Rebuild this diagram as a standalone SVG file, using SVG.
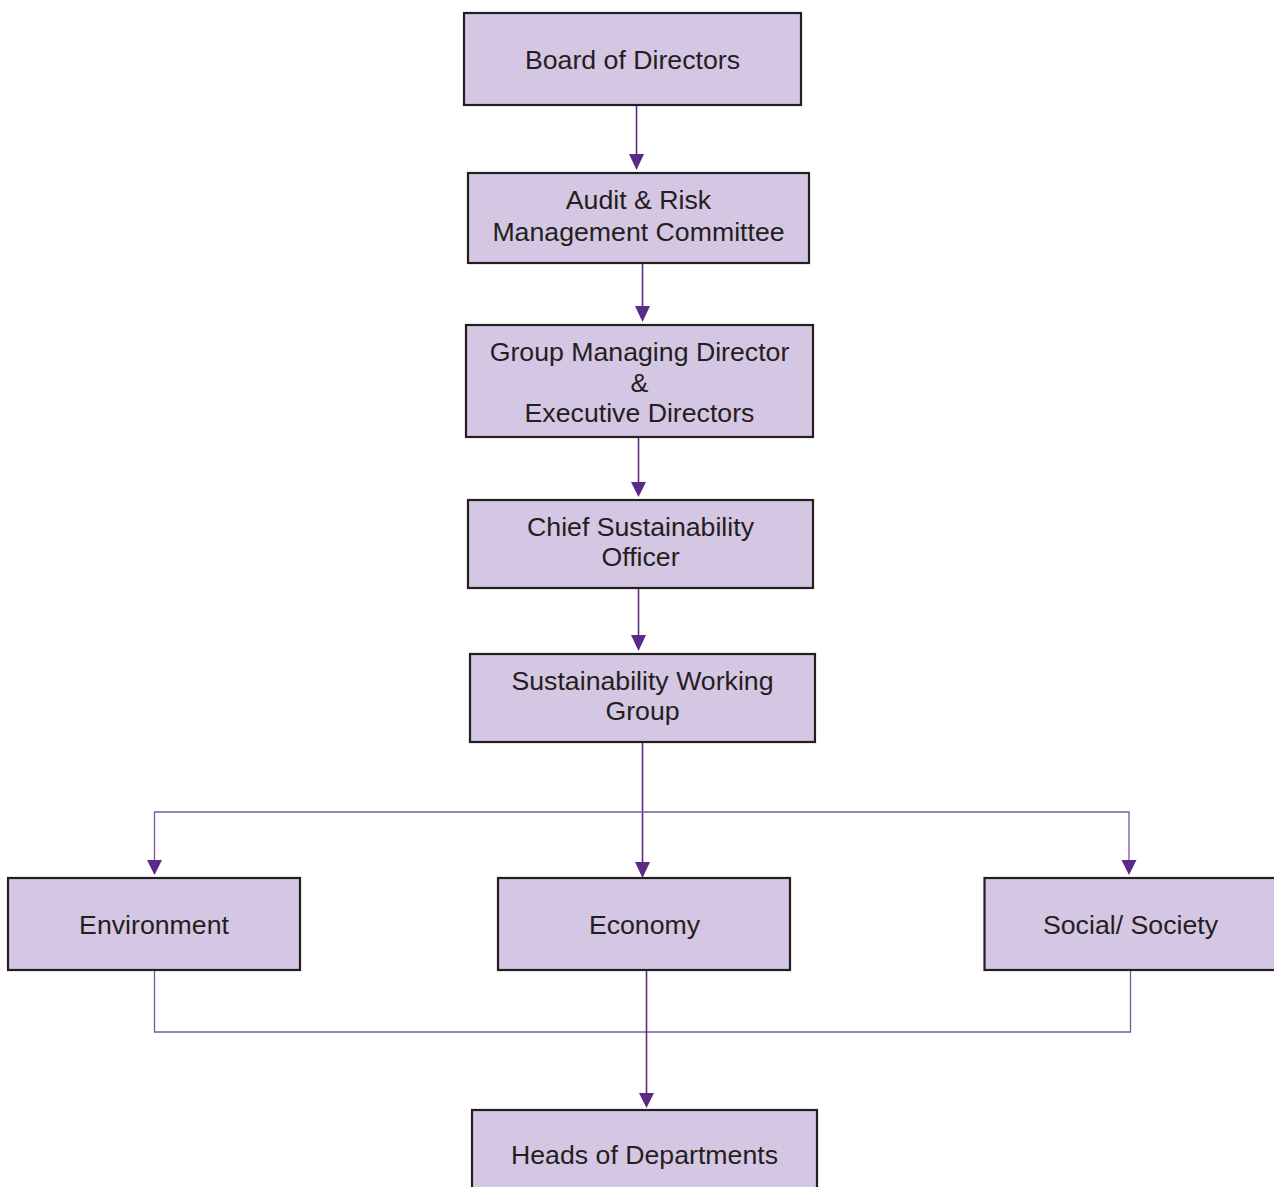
<svg xmlns="http://www.w3.org/2000/svg" width="1274" height="1187" viewBox="0 0 1274 1187">
<style>
.box{fill:#d5c6e3;stroke:#231f20;stroke-width:2.2}
.t{font-family:"Liberation Sans",Arial,sans-serif;font-size:26.7px;fill:#231f20;text-anchor:middle}
.c{stroke:#5b2a86;stroke-width:1.6;fill:none}
.h{stroke:#7b55a3;stroke-width:1.3;fill:none}
.a{fill:#5b2a86}
</style>
<rect width="1274" height="1187" fill="#ffffff"/>
<g id="connectors">
<path class="c" d="M636.5,106 V156"/>
<path class="a" d="M629,154 L644,154 L636.5,170 Z"/>
<path class="c" d="M642.5,264 V308"/>
<path class="a" d="M635,306 L650,306 L642.5,322 Z"/>
<path class="c" d="M638.5,437 V484"/>
<path class="a" d="M631,482 L646,482 L638.5,497 Z"/>
<path class="c" d="M638.5,588 V637"/>
<path class="a" d="M631,635 L646,635 L638.5,651 Z"/>
<path class="c" d="M642.5,743 V864"/>
<path class="a" d="M635,862 L650,862 L642.5,878 Z"/>
<path class="h" d="M154.5,861 V812 H1129 V861"/>
<path class="a" d="M147,860 L162,860 L154.5,875 Z"/>
<path class="a" d="M1121.5,860 L1136.5,860 L1129,875 Z"/>
<path class="h" d="M154.5,971 V1032 H1130.5 V971"/>
<path class="c" d="M646.5,970 V1094"/>
<path class="a" d="M639,1093 L654,1093 L646.5,1108 Z"/>
</g>
<g id="board">
<rect class="box" x="464" y="13" width="337" height="92"/>
<text class="t" x="632.5" y="69">Board of Directors</text>
</g>
<g id="audit">
<rect class="box" x="468" y="173" width="341" height="90"/>
<text class="t" x="638.5" y="209">Audit &amp; Risk</text>
<text class="t" x="638.5" y="241">Management Committee</text>
</g>
<g id="gmd">
<rect class="box" x="466" y="325" width="347" height="112"/>
<text class="t" x="639.5" y="361">Group Managing Director</text>
<text class="t" x="639.5" y="392">&amp;</text>
<text class="t" x="639.5" y="422">Executive Directors</text>
</g>
<g id="cso">
<rect class="box" x="468" y="500" width="345" height="88"/>
<text class="t" x="640.5" y="536">Chief Sustainability</text>
<text class="t" x="640.5" y="566">Officer</text>
</g>
<g id="swg">
<rect class="box" x="470" y="654" width="345" height="88"/>
<text class="t" x="642.5" y="690">Sustainability Working</text>
<text class="t" x="642.5" y="720">Group</text>
</g>
<g id="environment">
<rect class="box" x="8" y="878" width="292" height="92"/>
<text class="t" x="154" y="934">Environment</text>
</g>
<g id="economy">
<rect class="box" x="498" y="878" width="292" height="92"/>
<text class="t" x="644.5" y="934">Economy</text>
</g>
<g id="social">
<rect class="box" x="984.5" y="878" width="300" height="92"/>
<text class="t" x="1130.5" y="934">Social/ Society</text>
</g>
<g id="heads">
<rect class="box" x="472" y="1110" width="345" height="100"/>
<text class="t" x="644.5" y="1164">Heads of Departments</text>
</g>
</svg>
